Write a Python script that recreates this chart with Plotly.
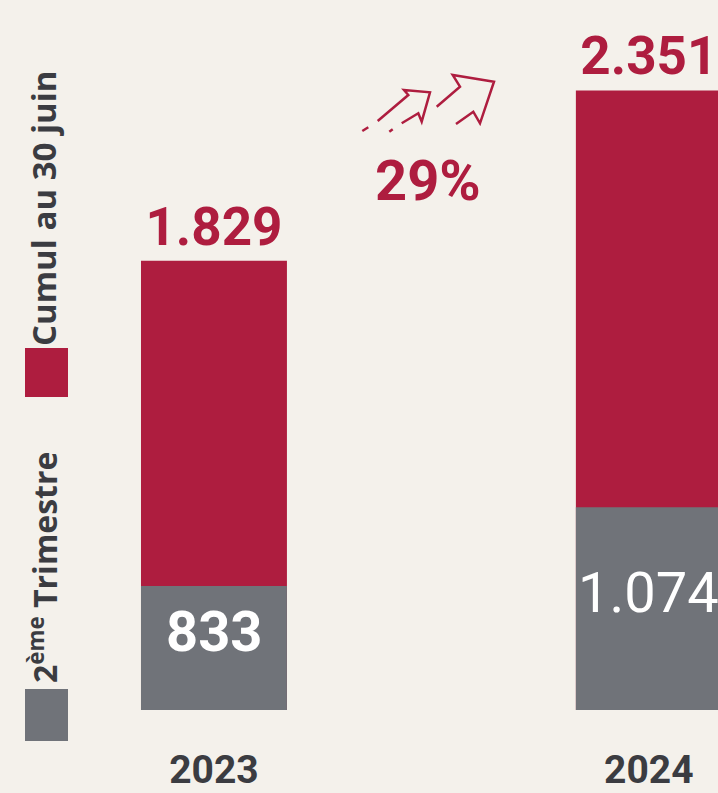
import plotly.graph_objects as go

# ---- data ----
years = ["2023", "2024"]
trimestre2 = [833, 1074]          # 2ème Trimestre
cumul_30_juin = [1829, 2351]      # Cumul au 30 juin
growth_label = "29%"

RED = "#ae1d3f"
GRAY = "#707379"
BG = "#f4f1eb"
DARK = "#3b3c41"
NARROW = "Roboto, sans-serif"
WIDE = "Open Sans, Roboto, sans-serif"

W, H = 718, 793
PLOT_BOTTOM = 710
Y_MIN, Y_MAX = 453, 2628


def px(x):
    return x / W


def py(y):
    return (PLOT_BOTTOM - y) / PLOT_BOTTOM


def fmt(v):
    return f"{v:,}".replace(",", ".")


fig = go.Figure()
fig.add_trace(go.Bar(
    x=years, y=cumul_30_juin, width=0.3356,
    marker=dict(color=RED, line=dict(width=0)),
    text=[fmt(v) for v in cumul_30_juin], textposition="outside",
    textangle=0, constraintext="none",
    textfont=dict(family=NARROW, size=53, color=RED, weight="bold"),
    cliponaxis=False, hoverinfo="skip", name="Cumul au 30 juin",
))
fig.add_trace(go.Bar(
    x=years, y=trimestre2, width=0.3356,
    marker=dict(color=GRAY, line=dict(width=0)),
    hoverinfo="skip", name="2ème Trimestre",
))

shapes = []
# legend squares
shapes.append(dict(type="rect", xref="paper", yref="paper",
                   x0=px(25), x1=px(68), y0=py(397), y1=py(348),
                   fillcolor=RED, line=dict(width=0)))
shapes.append(dict(type="rect", xref="paper", yref="paper",
                   x0=px(25), x1=px(68), y0=py(741), y1=py(689),
                   fillcolor=GRAY, line=dict(width=0)))


def path(points):
    return "M " + " L ".join(f"{px(x):.5f},{py(y):.5f}" for x, y in points)


arrow_paths = [
    [(362.3, 131), (368.3, 127.3)],
    [(389.3, 131.7), (392.7, 129.3)],
    [(377.7, 121), (408.3, 95), (404, 90), (430, 92.3), (421.7, 121.7), (418.3, 113.3), (401.7, 123.3)],
    [(436.7, 106.7), (460, 86.7), (452.7, 75), (494, 81.7), (480, 123.3), (473.3, 111.7), (456, 124)],
]
for pts in arrow_paths:
    shapes.append(dict(type="path", xref="paper", yref="paper", path=path(pts),
                       line=dict(color=RED, width=2.5)))

annotations = [
    dict(text="Cumul au 30 juin", x=px(43), y=py(209), xref="paper", yref="paper",
         textangle=-90, showarrow=False, xanchor="center", yanchor="middle",
         font=dict(family=WIDE, size=33, color=DARK, weight="bold")),
    dict(text="2<sup>ème</sup> Trimestre", x=px(43), y=py(568), xref="paper", yref="paper",
         textangle=-90, showarrow=False, xanchor="center", yanchor="middle",
         font=dict(family=WIDE, size=32, color=DARK, weight="bold")),
    dict(text=growth_label, x=px(428), y=py(181), xref="paper", yref="paper",
         showarrow=False, xanchor="center", yanchor="middle",
         font=dict(family=NARROW, size=56, color=RED, weight="bold")),
]
# labels inside the grey bars, near the middle of the visible part of each bar
for i, (v, wt) in enumerate(zip(trimestre2, ["bold", "normal"])):
    annotations.append(dict(
        text=fmt(v), x=i, y=(v + Y_MIN) / 2, xref="x", yref="y", yshift=16,
        showarrow=False, xanchor="center", yanchor="middle",
        font=dict(family=NARROW, size=56, color="white", weight=wt)))

fig.update_layout(
    width=W, height=H,
    margin=dict(l=0, r=0, t=0, b=H - PLOT_BOTTOM, pad=0),
    paper_bgcolor=BG, plot_bgcolor=BG,
    barmode="overlay", showlegend=False,
    shapes=shapes, annotations=annotations,
    xaxis=dict(type="category", range=[-0.492, 1.159], showgrid=False,
               showline=False, zeroline=False, ticks="", ticklabelstandoff=33,
               automargin=False,
               tickfont=dict(family=NARROW, size=39, color=DARK, weight="bold"),
               fixedrange=True),
    yaxis=dict(range=[Y_MIN, Y_MAX], visible=False, showgrid=False, zeroline=False,
               automargin=False, fixedrange=True),
)

fig.write_html(
    "out.html",
    config={"displayModeBar": False},
    post_script="document.body.style.margin='0';document.body.style.overflow='hidden';",
)
